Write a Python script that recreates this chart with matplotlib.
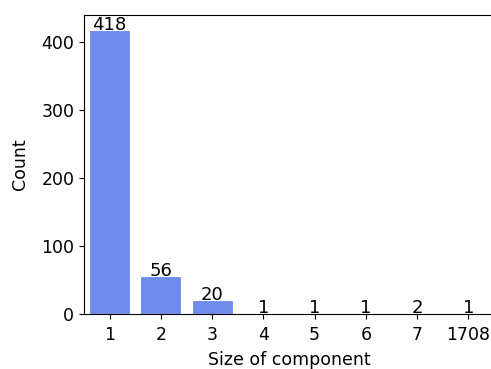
import matplotlib
matplotlib.use("Agg")
import matplotlib.pyplot as plt
import numpy as np

sizes = ["1", "2", "3", "4", "5", "6", "7", "1708"]
counts = [418, 56, 20, 1, 1, 1, 2, 1]

plt.rcParams['font.size'] = 12.5

fig = plt.figure(figsize=(4.91, 3.69), dpi=100)
ax = fig.add_axes([84 / 491, 55 / 369, 410 / 491, 299 / 369])

x = np.arange(len(sizes))
bars = ax.bar(x, counts, width=0.8, color='#6f8cea', edgecolor='white', linewidth=0.8)
# count written on top of each bar
for xi, c in zip(x, counts):
    ax.text(xi, c, str(c), ha='center', va='baseline', fontsize=13)

ax.set_xticks(x)
ax.set_xticklabels(sizes)
ax.set_xlim(-0.5, len(sizes) - 0.5)
ax.set_ylim(0, 440)
ax.set_yticks([0, 100, 200, 300, 400])
ax.tick_params(axis='x', pad=5)
ax.set_xlabel("Size of component", labelpad=5)
ax.set_ylabel("Count", labelpad=9)

fig.savefig("out.png", dpi=100)
